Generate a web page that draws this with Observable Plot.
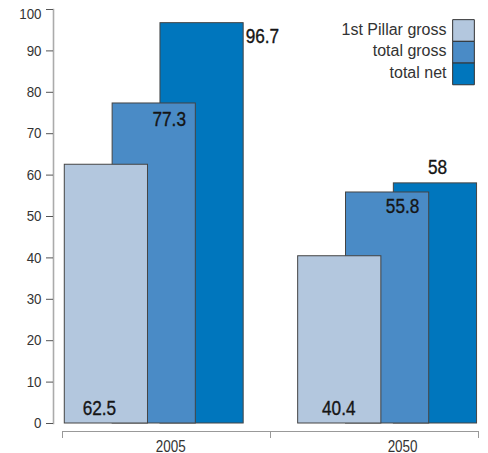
<!DOCTYPE html>
<html><head><meta charset="utf-8">
<script src="https://cdn.jsdelivr.net/npm/d3@7"></script>
<script src="https://cdn.jsdelivr.net/npm/@observablehq/plot@0.6"></script>
<style>
body{margin:0;background:#fff}
#chart{width:488px;height:453px}
</style>
</head><body><div id="chart"></div>
<script>
// ---- data ----
const years = ["2005", "2050"];
const series = ["1st Pillar gross", "total gross", "total net"];
const values2005 = [62.5, 77.3, 96.7];
const values2050 = [40.4, 55.8, 58];
const yTicks = [0, 10, 20, 30, 40, 50, 60, 70, 80, 90, 100];
const colors = ["#b3c7de", "#4a8bc6", "#0076bd"];

// ---- layout ----
const groupStart = [0.011, 0.133];
const step = 0.23;
const barW = 0.40;
const yearLabelPos = [0.52, 1.635];
const family = "'Liberation Sans', Arial, sans-serif";
// label placement per [group][series]
const labelLayout = [
  [{base: "zero", at: "mid", dx: -7, dy: -9, anchor: "middle"},
   {base: "top", at: "mid", dx: 15, dy: 23, anchor: "middle"},
   {base: "top", at: "right", dx: 2, dy: 20, anchor: "start"}],
  [{base: "zero", at: "mid", dx: -1, dy: -9, anchor: "middle"},
   {base: "top", at: "mid", dx: 15, dy: 21, anchor: "middle"},
   {base: "top", at: "mid", dx: 2, dy: -9, anchor: "middle"}]
];

const valuesByYear = [values2005, values2050];
const rows = [];
years.forEach((year, g) => {
  series.forEach((s, i) => {
    const x1 = g + groupStart[g] + i * step;
    rows.push({year, g, s, i, value: valuesByYear[g][i], x1, x2: x1 + barW});
  });
});
const drawRows = rows.slice().sort((a, b) => b.i - a.i); // dark first, light on top

const xLeft = 0 - 9 / 208; // y-axis line sits slightly left of the first group boundary
const boundaries = d3.range(years.length + 1);
const topTick = yTicks[yTicks.length - 1];

const marks = [
  Plot.frame({anchor: "left", stroke: "#ababab", strokeWidth: 1.6}),
  Plot.axisY({ticks: yTicks, label: null, tickSize: 7, tickFormat: () => "", stroke: "#555"}),
  Plot.text(yTicks.filter(t => t !== topTick), {y: d => d, frameAnchor: "left", dx: -12, textAnchor: "end", text: d => String(d), fontSize: 14.5, fill: "#333"}),
  Plot.text([topTick], {y: d => d, frameAnchor: "left", dx: -12, dy: 5, textAnchor: "end", text: d => String(d), fontSize: 14.5, fill: "#333"}),
  Plot.rect(drawRows, {x1: "x1", x2: "x2", y1: 0, y2: "value", fill: d => colors[d.i], stroke: "#444", strokeWidth: 1}),
  Plot.ruleY([0], {x1: boundaries[0], x2: boundaries[boundaries.length - 1], dy: 8, stroke: "#999"}),
  Plot.axisX({ticks: boundaries, label: null, tickFormat: () => "", tickSize: 7, dy: 8, stroke: "#999"}),
  Plot.text(years, {x: (d, i) => yearLabelPos[i], frameAnchor: "bottom", lineAnchor: "bottom", dy: 28, text: d => d, fontSize: 16, fill: "#333"}),
];

// value labels
rows.forEach(r => {
  const L = labelLayout[r.g][r.i];
  marks.push(Plot.text([r], {
    x: d => L.at === "mid" ? (d.x1 + d.x2) / 2 : d.x2,
    y: d => L.base === "zero" ? 0 : d.value,
    text: d => String(d.value),
    dx: L.dx, dy: L.dy, textAnchor: L.anchor, lineAnchor: "bottom",
    fontSize: 20, fill: "#151515", stroke: "#151515", strokeWidth: 0.35
  }));
});

// legend
series.forEach((s, i) => {
  marks.push(Plot.dot([s], {frameAnchor: "top-right", dx: -15, dy: 21 + i * 21.7, symbol: "square", r: 21.7 / Math.sqrt(Math.PI), fill: colors[i], stroke: "#333", strokeWidth: 1}));
  marks.push(Plot.text([s], {frameAnchor: "top-right", lineAnchor: "middle", dx: -32, dy: 20 + i * 21.7, text: d => d, textAnchor: "end", fontSize: 16, fill: "#333"}));
});

const chart = Plot.plot({
  width: 488,
  height: 453,
  marginLeft: 53,
  marginRight: 10,
  marginTop: 9,
  marginBottom: 30,
  x: {domain: [xLeft, boundaries[boundaries.length - 1]], axis: null},
  y: {domain: [0, 100], axis: null},
  style: {fontFamily: family, background: "#fff", overflow: "visible"},
  marks
});
document.getElementById("chart").appendChild(chart);

// condensed look for numeric labels (reference uses a condensed face)
d3.select(chart).selectAll("text").each(function () {
  const t = this.textContent;
  if (!t || series.includes(t)) return;
  const len = this.getComputedTextLength();
  if (!len) return;
  const fs = +(this.getAttribute("font-size") || (this.parentNode && this.parentNode.getAttribute("font-size")) || 0);
  const k = fs >= 20 ? 0.86 : fs >= 16 ? 0.84 : 0.92;
  this.setAttribute("textLength", len * k);
  this.setAttribute("lengthAdjust", "spacingAndGlyphs");
});
</script>
</body></html>
